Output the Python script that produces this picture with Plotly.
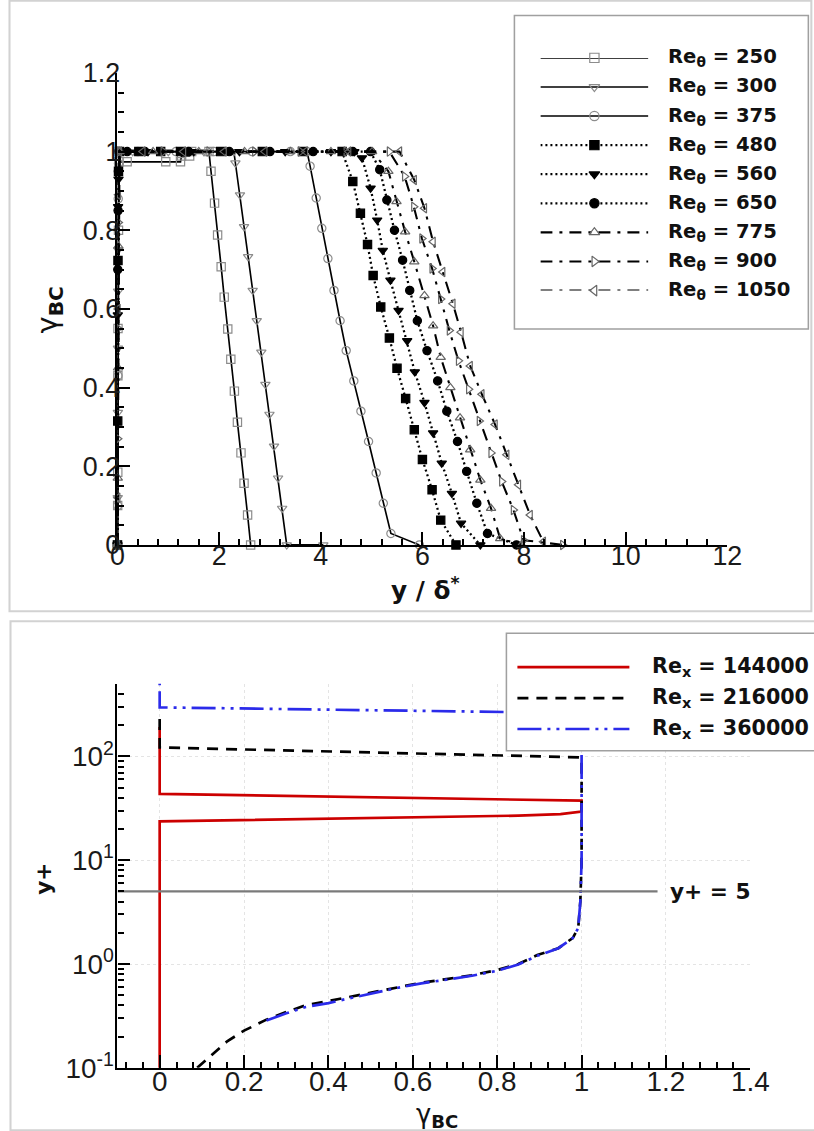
import plotly.graph_objects as go

# Canvas geometry: positions below are given in final picture pixels and mapped
# onto the figure through the page scale/offset measured for this renderer.
SCALE = 0.969
OFF_X, OFF_Y = 6.5, 17.3
W, H = 834, 1151
K = 1 / SCALE  # size compensation for fonts, lines and markers


def px_x(p):
    return ((p - OFF_X) / SCALE) / W


def px_y(p):
    return 1 - ((p - OFF_Y) / SCALE) / H


def sz(v):
    return v * K


def isz(v):
    return int(round(v * K))


# ---------------- upper panel: gamma_BC versus y / delta* ----------------
RE_THETA = [250, 300, 375, 480, 560, 650, 775, 900, 1050]

Y_250 = [0, 0.004, 0.006, 0.008, 0.010, 0.02, 0.03, 0.19, 0.95, 1.24, 1.26, 1.42, 1.46, 1.80,
         1.84, 1.91, 1.97, 2.04, 2.10, 2.17, 2.23, 2.30, 2.36, 2.43, 2.49, 2.56, 2.62]
G_250 = [0, 0.10, 0.185, 0.43, 0.55, 0.80, 0.974, 0.974, 0.974, 0.974, 0.989, 0.989, 1.0, 1.0,
         0.950, 0.869, 0.788, 0.707, 0.630, 0.549, 0.472, 0.391, 0.312, 0.234, 0.157, 0.076, 0.0]

Y_300 = [0, 0.005, 0.008, 0.010, 0.012, 0.015, 0.04, 0.30, 1.00, 1.70, 2.29, 2.32, 2.41, 2.49,
         2.57, 2.66, 2.74, 2.83, 2.91, 2.99, 3.08, 3.16, 3.24, 3.33, 4.05]
G_300 = [0, 0.12, 0.337, 0.50, 0.645, 0.75, 1.0, 1.0, 1.0, 1.0, 1.0, 0.971, 0.89, 0.809,
         0.733, 0.647, 0.570, 0.490, 0.408, 0.332, 0.251, 0.170, 0.093, 0.0, 0.0]

Y_375 = [0, 0.005, 0.010, 0.015, 0.02, 0.05, 0.40, 1.15, 1.90, 2.65, 3.40, 3.73, 3.79, 3.91,
         4.02, 4.14, 4.26, 4.38, 4.50, 4.65, 4.79, 4.94, 5.09, 5.23, 5.38, 5.94]
G_375 = [0, 0.10, 0.43, 0.88, 0.97, 1.0, 1.0, 1.0, 1.0, 1.0, 1.0, 1.0, 0.963, 0.882,
         0.805, 0.728, 0.647, 0.570, 0.494, 0.417, 0.340, 0.263, 0.183, 0.106, 0.029, 0.0]

Y_480 = [0, 0.005, 0.010, 0.02, 0.04, 0.42, 0.85, 1.24, 2.03, 2.85, 3.64, 4.42, 4.63, 4.78,
         4.92, 5.03, 5.18, 5.35, 5.50, 5.67, 5.84, 6.00, 6.19, 6.36, 6.66]
G_480 = [0, 0.315, 0.723, 0.95, 1.0, 1.0, 1.0, 1.0, 1.0, 1.0, 1.0, 1.0, 0.924, 0.843,
         0.764, 0.685, 0.605, 0.526, 0.449, 0.372, 0.293, 0.217, 0.140, 0.063, 0.0]

Y_560 = [0, 0.006, 0.012, 0.02, 0.05, 0.60, 1.50, 2.40, 3.30, 4.20, 4.66, 4.81, 4.98, 5.11,
         5.22, 5.37, 5.53, 5.70, 5.85, 6.04, 6.21, 6.38, 6.58, 6.76, 7.14]
G_560 = [0, 0.585, 0.86, 0.93, 1.0, 1.0, 1.0, 1.0, 1.0, 1.0, 1.0, 0.984, 0.907, 0.826,
         0.749, 0.673, 0.596, 0.519, 0.440, 0.362, 0.285, 0.208, 0.131, 0.055, 0.0]

Y_650 = [0, 0.006, 0.012, 0.018, 0.03, 0.19, 0.54, 1.40, 2.20, 3.00, 3.85, 4.63, 4.98, 5.16,
         5.30, 5.45, 5.61, 5.75, 5.90, 6.09, 6.30, 6.48, 6.69, 6.87, 7.07, 7.28, 7.85]
G_650 = [0, 0.70, 0.85, 0.95, 1.0, 1.0, 1.0, 1.0, 1.0, 1.0, 1.0, 1.0, 1.0, 0.954,
         0.877, 0.800, 0.724, 0.647, 0.570, 0.494, 0.417, 0.340, 0.263, 0.187, 0.106, 0.029, 0.0]

Y_775 = [0, 0.006, 0.012, 0.018, 0.04, 0.70, 1.60, 2.50, 3.40, 4.20, 5.01, 5.33, 5.49, 5.66,
         5.84, 6.04, 6.21, 6.36, 6.55, 6.74, 6.94, 7.14, 7.35, 7.53, 7.95]
G_775 = [0, 0.17, 0.45, 0.76, 1.0, 1.0, 1.0, 1.0, 1.0, 1.0, 1.0, 0.950, 0.873, 0.796,
         0.720, 0.634, 0.557, 0.477, 0.400, 0.323, 0.242, 0.165, 0.093, 0.016, 0.0]

Y_900 = [0, 0.006, 0.012, 0.018, 0.04, 0.90, 1.80, 2.70, 3.60, 4.50, 5.35, 5.65, 5.83, 5.99,
         6.19, 6.36, 6.53, 6.71, 6.91, 7.12, 7.35, 7.56, 7.79, 7.99, 8.76]
G_900 = [0, 0.27, 0.55, 0.82, 1.0, 1.0, 1.0, 1.0, 1.0, 1.0, 1.0, 0.937, 0.860, 0.779,
         0.703, 0.625, 0.545, 0.468, 0.396, 0.315, 0.234, 0.161, 0.089, 0.012, 0.0]

Y_1050 = [0, 0.006, 0.012, 0.018, 0.04, 0.50, 1.30, 2.10, 2.90, 3.70, 4.55, 5.55, 5.84, 6.04,
          6.21, 6.40, 6.60, 6.76, 6.94, 7.17, 7.43, 7.66, 7.89, 8.12, 8.38]
G_1050 = [0, 0.12, 0.60, 0.89, 1.0, 1.0, 1.0, 1.0, 1.0, 1.0, 1.0, 1.0, 0.928, 0.856,
          0.771, 0.694, 0.613, 0.541, 0.455, 0.383, 0.306, 0.229, 0.153, 0.076, 0.008]

TOP_PROFILES = [(Y_250, G_250), (Y_300, G_300), (Y_375, G_375), (Y_480, G_480),
                (Y_560, G_560), (Y_650, G_650), (Y_775, G_775), (Y_900, G_900),
                (Y_1050, G_1050)]

DASHDOT = "12px,7px,3px,7px"
DOTTED = "2px,3px"
TOP_STYLE = [
    dict(symbol="square-open", mcolor="#8c8c8c", dash="solid", width=1.6),
    dict(symbol="triangle-down-open", mcolor="#8c8c8c", dash="solid", width=1.6),
    dict(symbol="circle-open", mcolor="#8c8c8c", dash="solid", width=1.6),
    dict(symbol="square", mcolor="#000000", dash=DOTTED, width=2.2),
    dict(symbol="triangle-down", mcolor="#000000", dash=DOTTED, width=2.2),
    dict(symbol="circle", mcolor="#000000", dash=DOTTED, width=2.2),
    dict(symbol="triangle-up-open", mcolor="#666666", dash=DASHDOT, width=2.0),
    dict(symbol="triangle-right-open", mcolor="#666666", dash=DASHDOT, width=2.0),
    dict(symbol="triangle-left-open", mcolor="#666666", dash=DASHDOT, width=2.0),
]

# ---------------- lower panel: y+ versus gamma_BC ----------------
RE_X = [144000, 216000, 360000]

G_144 = [0, 0, 0.85, 0.95, 1.0, 1.0, 0, 0]
YP_144 = [0.08, 23.7, 26.9, 27.8, 29.4, 37.5, 43.6, 192]

G_216 = [0.089, 0.16, 0.20, 0.253, 0.30, 0.346, 0.388, 0.447, 0.50, 0.565, 0.62, 0.684, 0.74,
         0.80, 0.85, 0.895, 0.945, 0.979, 0.992, 0.997, 1.0, 1.0, 0.0, 0.0]
YP_216 = [0.10, 0.18, 0.228, 0.291, 0.345, 0.40, 0.43, 0.48, 0.53, 0.60, 0.66, 0.72, 0.78,
          0.875, 1.0, 1.22, 1.42, 1.78, 2.22, 4.0, 10, 98, 122, 260]

G_360 = [0.253, 0.30, 0.346, 0.40, 0.447, 0.50, 0.565, 0.62, 0.684, 0.74, 0.80, 0.85, 0.895,
         0.945, 0.979, 0.992, 0.997, 1.0, 1.0, 0.0, 0.0]
YP_360 = [0.285, 0.335, 0.385, 0.42, 0.465, 0.52, 0.59, 0.65, 0.71, 0.77, 0.86, 0.99, 1.20,
          1.42, 1.78, 2.22, 4.0, 10, 262, 297, 520]

BOTTOM_PROFILES = [(G_144, YP_144), (G_216, YP_216), (G_360, YP_360)]
BOTTOM_STYLE = [
    dict(color="#cc0000", dash="solid"),
    dict(color="#000000", dash="11px,8px"),
    dict(color="#2b2bea", dash="24px,6px,3px,6px,3px,6px"),
]

YPLUS_REF = 5
REF_SPAN = [-0.1, 1.18]

TICK_FONT = dict(family="Liberation Sans, Arial, sans-serif", size=sz(26), color="#1a1a1a")
TXT = "DejaVu Sans, Liberation Sans, sans-serif"

fig = go.Figure()

# upper panel curves
for re, (yd, g), st in zip(RE_THETA, TOP_PROFILES, TOP_STYLE):
    fig.add_trace(go.Scatter(
        x=yd, y=g, xaxis="x", yaxis="y", mode="lines+markers", cliponaxis=False,
        line=dict(color="black", width=sz(st["width"]), dash=st["dash"]),
        marker=dict(symbol=st["symbol"], size=sz(8), color=st["mcolor"],
                    line=dict(color=st["mcolor"], width=1.2)),
        name=f"Re_theta = {re}", showlegend=False))

# upper panel key (drawn on its own hidden axes)
for i, (re, st) in enumerate(zip(RE_THETA, TOP_STYLE)):
    fig.add_trace(go.Scatter(
        x=[0, 1], y=[i, i], xaxis="x3", yaxis="y3", mode="lines",
        line=dict(color="black", width=sz(st["width"]), dash=st["dash"]),
        showlegend=False, hoverinfo="skip"))
    fig.add_trace(go.Scatter(
        x=[0.5], y=[i], xaxis="x3", yaxis="y3", mode="markers", cliponaxis=False,
        marker=dict(symbol=st["symbol"], size=sz(9), color=st["mcolor"],
                    line=dict(color=st["mcolor"], width=1.2)),
        showlegend=False, hoverinfo="skip"))

# lower panel curves
for re, (g, yp), st in zip(RE_X, BOTTOM_PROFILES, BOTTOM_STYLE):
    fig.add_trace(go.Scatter(
        x=g, y=yp, xaxis="x2", yaxis="y2", mode="lines",
        line=dict(color=st["color"], width=sz(2.6), dash=st["dash"]),
        name=f"Re_x = {re}", showlegend=False))

# y+ = 5 reference line
fig.add_trace(go.Scatter(
    x=REF_SPAN, y=[YPLUS_REF, YPLUS_REF], xaxis="x2", yaxis="y2", mode="lines",
    line=dict(color="#7a7a7a", width=sz(2.2)), showlegend=False))

axis_common = dict(showline=True, linecolor="black", linewidth=sz(2), ticks="inside",
                   tickcolor="black", tickwidth=sz(2), ticklen=sz(12), tickfont=TICK_FONT,
                   zeroline=False, showgrid=False, mirror=False)
grid_on = dict(showgrid=True, gridcolor="#e4e4e4", griddash="dot", gridwidth=1)
minor_common = dict(ticklen=sz(6), tickwidth=sz(1.5), ticks="inside", tickcolor="black")

log_minor = [m * 10.0 ** e for e in range(-1, 3) for m in range(2, 10) if m * 10.0 ** e <= 500]

fig.update_layout(
    width=W, height=H, margin=dict(l=0, r=0, t=0, b=0),
    paper_bgcolor="white", plot_bgcolor="rgba(0,0,0,0)", showlegend=False,
    xaxis=dict(domain=[px_x(117), px_x(727)], range=[0, 12], anchor="y", dtick=2, tick0=0,
               ticklabelstandoff=isz(-14), minor=dict(dtick=0.4, **minor_common),
               **axis_common),
    yaxis=dict(domain=[px_y(545), px_y(75)], range=[0, 1.2], anchor="x", dtick=0.2, tick0=0,
               ticklabelstandoff=isz(-10), minor=dict(dtick=0.05, **minor_common),
               **axis_common),
    xaxis2=dict(domain=[px_x(117), px_x(750)], range=[-0.1, 1.4], anchor="y2", dtick=0.2, tick0=0,
                ticklabelstandoff=isz(-12),
                minor=dict(dtick=0.04, tick0=0, showgrid=False, **minor_common),
                **{**axis_common, **grid_on, "tickfont": dict(TICK_FONT, size=sz(27))}),
    yaxis2=dict(domain=[px_y(1065.7), px_y(683.3)], type="log", range=[-1, 2.7], anchor="x2",
                tickmode="array", tickvals=[0.1, 1, 10, 100], ticklabelstandoff=isz(-4),
                ticktext=["10<sup>-1</sup>", "10<sup>0</sup>", "10<sup>1</sup>", "10<sup>2</sup>"],
                minor=dict(tickmode="array", tickvals=log_minor, showgrid=False, **minor_common),
                **{**axis_common, **grid_on, "tickfont": dict(TICK_FONT, size=sz(27))}),
    xaxis3=dict(domain=[px_x(540), px_x(648)], range=[0, 1], anchor="y3", visible=False,
                fixedrange=True),
    yaxis3=dict(domain=[px_y(291.7), px_y(60)], range=[len(RE_THETA) - 1, 0], anchor="x3",
                visible=False, fixedrange=True),
)

shapes = [
    # panel frames
    dict(type="rect", xref="paper", yref="paper", x0=px_x(9), x1=px_x(811), y0=px_y(611),
         y1=px_y(3), line=dict(color="#d2d2d2", width=sz(2)), layer="below"),
    dict(type="rect", xref="paper", yref="paper", x0=px_x(10), x1=px_x(830), y0=px_y(1128),
         y1=px_y(621), line=dict(color="#d2d2d2", width=sz(2)), layer="below"),
    # upper key box
    dict(type="rect", xref="paper", yref="paper", x0=px_x(514), x1=px_x(808), y0=px_y(330),
         y1=min(px_y(12), 0.9995), line=dict(color="#a0a0a0", width=sz(1.5)),
         fillcolor="white", layer="below"),
    # lower key box (masks curves beneath it)
    dict(type="rect", xref="paper", yref="paper", x0=px_x(506), x1=px_x(830), y0=px_y(750),
         y1=px_y(633), line=dict(color="#a0a0a0", width=sz(1.5)), fillcolor="white",
         layer="above"),
]

annotations = []
for i, re in enumerate(RE_THETA):
    annotations.append(dict(
        xref="paper", yref="y3", x=px_x(666), y=i, xanchor="left", yanchor="middle",
        text=f"<b>Re<sub>θ</sub> = {re}</b>", showarrow=False,
        font=dict(family=TXT, size=sz(19), color="#111111")))

LEG2_TOP, LEG2_STEP = 666.7, 30.8
for i, (re, st) in enumerate(zip(RE_X, BOTTOM_STYLE)):
    yrow = px_y(LEG2_TOP + i * LEG2_STEP)
    shapes.append(dict(type="line", xref="paper", yref="paper", x0=px_x(517), x1=px_x(629),
                       y0=yrow, y1=yrow, layer="above",
                       line=dict(color=st["color"], width=sz(2.6), dash=st["dash"])))
    annotations.append(dict(
        xref="paper", yref="paper", x=px_x(650), y=yrow, xanchor="left", yanchor="middle",
        text=f"<b>Re<sub>x</sub> = {re}</b>", showarrow=False,
        font=dict(family=TXT, size=sz(20), color="#111111")))

# axis titles and the reference-line label
center = dict(xanchor="center", yanchor="middle", showarrow=False)
annotations += [
    dict(xref="paper", yref="paper", x=px_x(48), y=px_y(311), text="γ<sub><b>BC</b></sub>",
         textangle=-90, font=dict(family=TXT, size=sz(28), color="#111111"), **center),
    dict(xref="paper", yref="paper", x=px_x(425), y=px_y(589), text="<b>y / δ<sup>*</sup></b>",
         font=dict(family=TXT, size=sz(24), color="#111111"), **center),
    dict(xref="paper", yref="paper", x=px_x(43), y=px_y(877), text="<b>y+</b>",
         textangle=-90, font=dict(family=TXT, size=sz(21), color="#111111"), **center),
    dict(xref="paper", yref="paper", x=px_x(437), y=px_y(1113), text="γ<sub><b>BC</b></sub>",
         font=dict(family=TXT, size=sz(25), color="#111111"), **center),
    dict(xref="paper", yref="y2", x=px_x(668), y=0.699, xanchor="left", yanchor="middle",
         text="<b>y+ = 5</b>", showarrow=False,
         font=dict(family=TXT, size=sz(21), color="#111111")),
]

fig.update_layout(shapes=shapes, annotations=annotations)
fig.write_html("out.html")
